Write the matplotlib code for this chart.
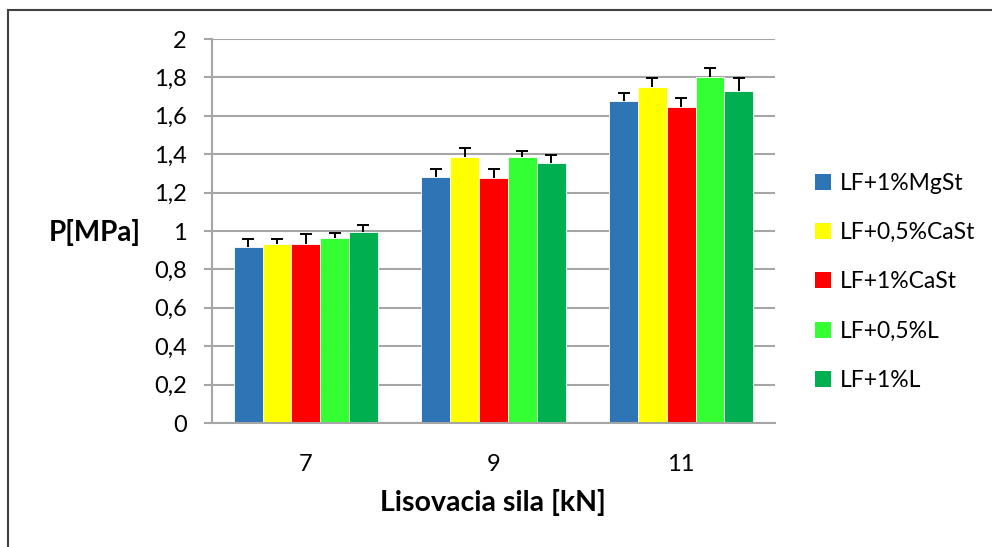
import matplotlib
matplotlib.use("Agg")
import matplotlib.pyplot as plt
from matplotlib.patches import Rectangle, Patch
import numpy as np

plt.rcParams['font.family'] = ['Lato', 'DejaVu Sans']

categories = ['7', '9', '11']
series_names = ['LF+1%MgSt', 'LF+0,5%CaSt', 'LF+1%CaSt', 'LF+0,5%L', 'LF+1%L']
colors = ['#2E75B6', '#FFFF00', '#FF0000', '#33FF33', '#00B050']
values = [
    [0.917, 1.279, 1.675],
    [0.934, 1.383, 1.750],
    [0.932, 1.278, 1.644],
    [0.965, 1.383, 1.802],
    [0.995, 1.356, 1.731],
]
errors = [
    [0.043, 0.042, 0.042],
    [0.024, 0.051, 0.047],
    [0.054, 0.047, 0.049],
    [0.026, 0.035, 0.045],
    [0.036, 0.042, 0.067],
]
yticks = [0, 0.2, 0.4, 0.6, 0.8, 1.0, 1.2, 1.4, 1.6, 1.8, 2.0]
ytick_labels = ['0', '0,2', '0,4', '0,6', '0,8', '1', '1,2', '1,4', '1,6', '1,8', '2']

W, H = 992, 547
fig = plt.figure(figsize=(W/100, H/100), dpi=100)
ax = fig.add_axes([212/W, 1-423/H, (775-212)/W, (423-39)/H])

x = np.arange(len(categories))
bw = 0.1536
n = len(series_names)
for i, (name, vals, errs, c) in enumerate(zip(series_names, values, errors, colors)):
    pos = x + (i - (n-1)/2) * bw
    vals = np.array(vals)
    errs = np.array(errs)
    ax.bar(pos, vals, width=bw, color=c, edgecolor='white', linewidth=0.6, label=name, zorder=2)
    ax.errorbar(pos, vals, yerr=[np.zeros(len(vals)), errs], fmt='none', ecolor='black',
                elinewidth=1.4, capsize=0, zorder=3)
    ax.plot(pos, vals + errs, linestyle='none', marker='_', markersize=9,
            markeredgewidth=1.4, color='black', zorder=3)

ax.set_xlim(-0.5, 2.5)
ax.set_ylim(0, 2)
ax.set_yticks(yticks)
ax.set_yticklabels(ytick_labels)
ax.set_xticks(x)
ax.set_xticklabels(categories)
ax.yaxis.grid(True, color='#A6A6A6', linewidth=1.5, zorder=0)
ax.set_axisbelow(True)
for s in ['top', 'right']:
    ax.spines[s].set_visible(False)
ax.spines['left'].set_color('#A6A6A6')
ax.spines['left'].set_linewidth(1.5)
ax.spines['bottom'].set_color('#A6A6A6')
ax.spines['bottom'].set_linewidth(1.5)
ax.tick_params(axis='y', length=6, width=1.5, color='#A6A6A6', labelsize=17, pad=12)
ax.tick_params(axis='x', length=0, labelsize=17, pad=22)

fig.text(95/W, 1-232/H, 'P[MPa]', fontsize=20, fontweight='bold', ha='center', va='center')
fig.text(493/W, 1-503/H, 'Lisovacia sila [kN]', fontsize=20.5, fontweight='bold', ha='center', va='center')

handles = [Patch(facecolor=c, edgecolor='none') for c in colors]
fig.legend(handles, series_names, loc='upper left', bbox_to_anchor=(815/W, 1-173/H),
           frameon=False, fontsize=16.5, handlelength=0.7, handleheight=0.7,
           handletextpad=0.4, labelspacing=1.23, borderaxespad=0, borderpad=0)

fig.patches.append(Rectangle((7.5/W, -0.1), 1.2, 1.1 - 9.5/H, transform=fig.transFigure,
                             fill=False, edgecolor='#404040', linewidth=1.5))

fig.savefig('out.png', dpi=100)
